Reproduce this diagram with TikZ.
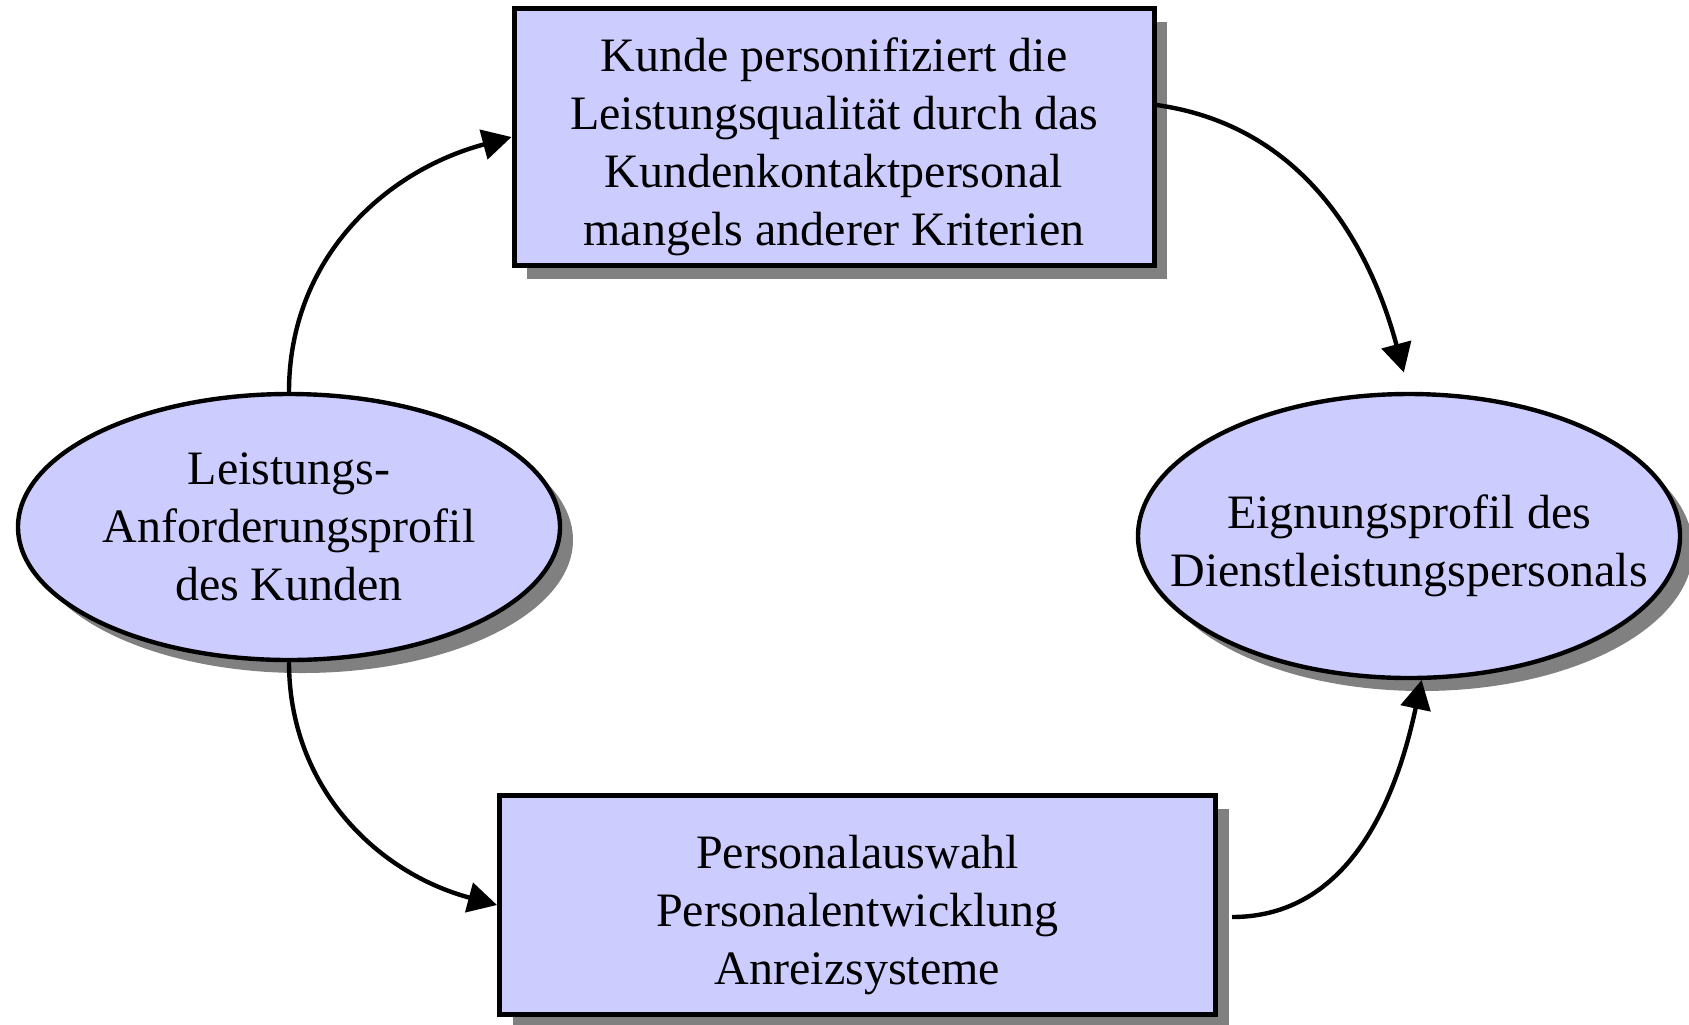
\documentclass[tikz,border=0pt]{standalone}
\usepackage{fontspec}
\setmainfont{Liberation Serif}
\usetikzlibrary{shapes.geometric,shadows,arrows.meta}
\definecolor{lila}{RGB}{204,204,255}
\newcommand{\hoch}{\rule{0pt}{26.5pt}}

\begin{document}
\begin{tikzpicture}[x=0.5pt, y=0.5pt,
    kasten/.style={draw, line width=2.5pt, fill=lila, align=center, inner sep=0pt,
        font=\fontsize{24}{29}\selectfont,
        drop shadow={shadow xshift=6.5pt, shadow yshift=-6.5pt, fill=gray, opacity=1}},
    oval/.style={kasten, ellipse, line width=2.2pt, minimum width=271pt},
    pfeil/.style={line width=2.2pt, -{Triangle[length=14.5pt, width=15pt]}}]
    \useasboundingbox (0,0) rectangle (1689,-1024);

    \node[kasten, minimum width=320pt, minimum height=128.5pt] (t) at (834,-137)
        {\hoch Kunde personifiziert die\\Leistungsqualität durch das\\Kundenkontaktpersonal\\mangels anderer Kriterien};
    \node[kasten, minimum width=358pt, minimum height=109.5pt] (b) at (857.5,-905)
        {\hoch Personalauswahl\\Personalentwicklung\\Anreizsysteme};
    \node[oval, minimum height=133pt] (l) at (289,-527)
        {Leistungs-\\Anforderungsprofil\\des Kunden};
    \node[oval, minimum height=142pt, inner xsep=-24pt] (r) at (1409,-536)
        {\hoch Eignungsprofil des\\Dienstleistungspersonals};

    \draw[pfeil] (l.north) to[out=90, in=195] (t.west);
    \draw[pfeil, shorten >=10pt] ([yshift=16pt]t.east) to[out=-8, in=105] (r.north);
    \draw[pfeil] (l.south) to[out=270, in=165] (b.west);
    \draw[pfeil] ([xshift=7pt, yshift=-6pt]b.east) to[out=0, in=258] (r.275);
\end{tikzpicture}
\end{document}
